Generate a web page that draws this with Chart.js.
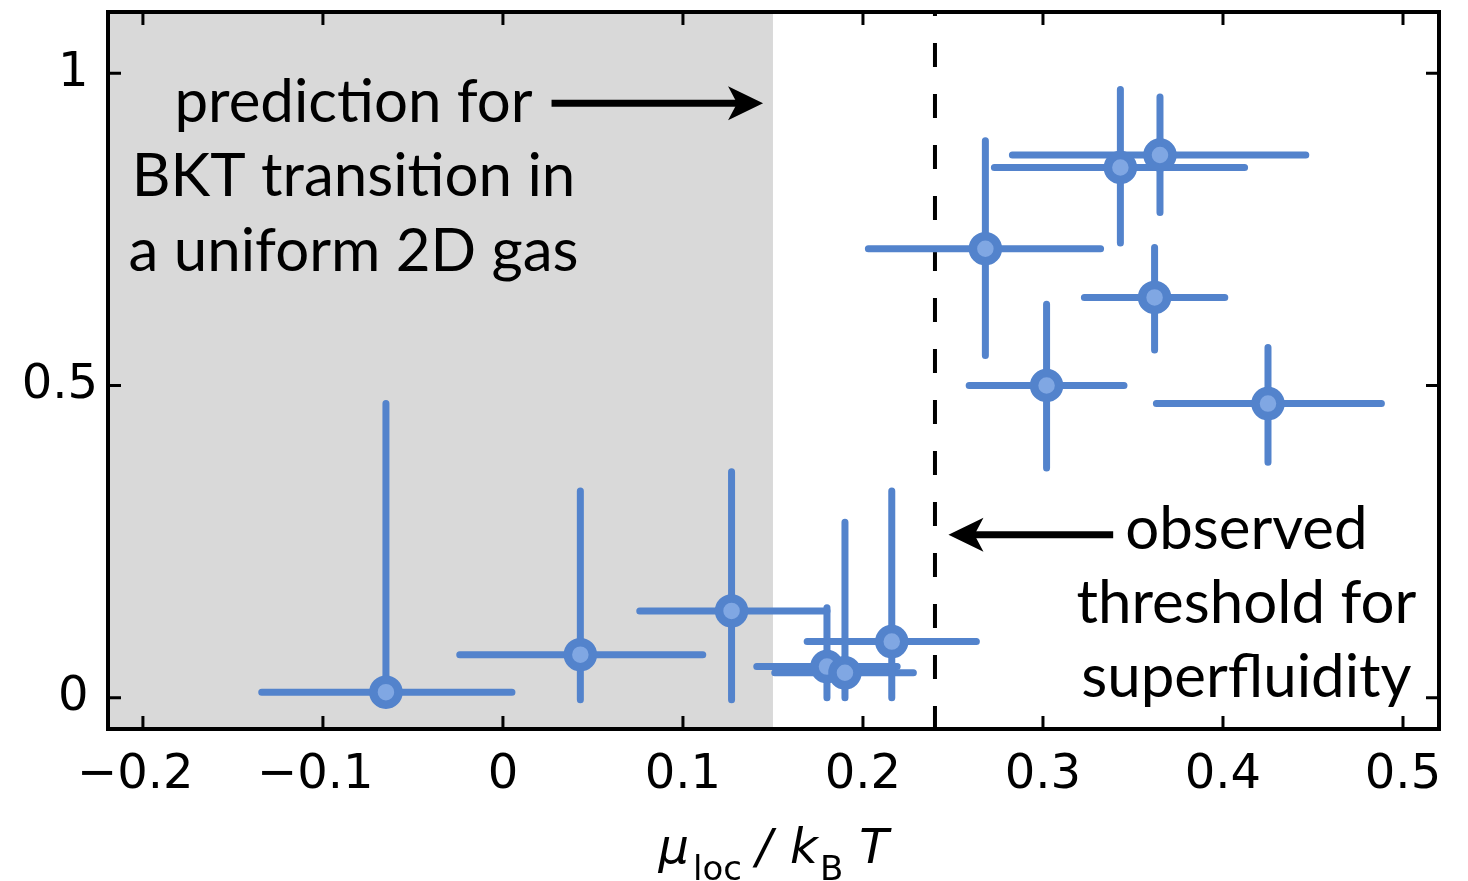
<!DOCTYPE html>
<html>
<head>
<meta charset="utf-8">
<script src="https://cdn.jsdelivr.net/npm/chart.js@4.4.1/dist/chart.umd.min.js"></script>
<style>
  html, body { margin: 0; padding: 0; background: #fff; }
  #graph { display: block; }
</style>
</head>
<body>
<canvas id="graph" width="1468" height="881"></canvas>
<script>
// data
const muX   = [-0.065, 0.043, 0.127, 0.180, 0.190, 0.216, 0.268, 0.343, 0.365, 0.362, 0.302, 0.425];
const fracY = [0.009, 0.069, 0.139, 0.050, 0.040, 0.090, 0.719, 0.849, 0.869, 0.641, 0.500, 0.471];
const xLow  = [-0.134, -0.024, 0.076, 0.141, 0.151, 0.169, 0.203, 0.273, 0.283, 0.323, 0.259, 0.363];
const xHigh = [0.005, 0.111, 0.180, 0.219, 0.228, 0.263, 0.332, 0.412, 0.446, 0.401, 0.345, 0.488];
const yLow  = [0.000, -0.003, -0.003, 0.000, 0.000, 0.000, 0.548, 0.728, 0.777, 0.557, 0.368, 0.377];
const yHigh = [0.471, 0.331, 0.362, 0.144, 0.281, 0.331, 0.892, 0.974, 0.962, 0.721, 0.630, 0.561];

const xTicks = [-0.2, -0.1, 0, 0.1, 0.2, 0.3, 0.4, 0.5];
const yTicks = [0, 0.5, 1];

const bktEdge = 0.15;     // right edge of grey region
const threshold = 0.24;   // dashed line

const leftNote = ['prediction for', 'BKT transition in', 'a uniform 2D gas'];
const leftNoteX = -0.083;
const leftNoteY = [0.9215, 0.803, 0.683];
const rightNote = ['observed', 'threshold for', 'superfluidity'];
const rightNoteX = 0.413;
const rightNoteY = [0.239, 0.120, 0.0016];

const blue = '#5383cc';
const lightBlue = '#80a7e3';
const noteFont = '60px Lato';

function arrow(ctx, x0, x1, y) {
  const dir = x1 > x0 ? 1 : -1;
  ctx.save();
  ctx.strokeStyle = '#000';
  ctx.fillStyle = '#000';
  ctx.lineWidth = 7;
  ctx.beginPath();
  ctx.moveTo(x0, y);
  ctx.lineTo(x1 - dir * 20, y);
  ctx.stroke();
  ctx.beginPath();
  ctx.moveTo(x1, y);
  ctx.lineTo(x1 - dir * 35, y - 17);
  ctx.lineTo(x1 - dir * 26, y);
  ctx.lineTo(x1 - dir * 35, y + 17);
  ctx.closePath();
  ctx.fill();
  ctx.restore();
}

const backdrop = {
  id: 'backdrop',
  beforeDatasetsDraw(chart) {
    const { ctx, chartArea: a, scales: { x, y } } = chart;
    ctx.save();
    ctx.fillStyle = '#d9d9d9';
    const xe = x.getPixelForValue(bktEdge);
    ctx.fillRect(a.left, a.top, xe - a.left, a.bottom - a.top);

    // threshold line
    const xt = x.getPixelForValue(threshold);
    ctx.strokeStyle = '#000';
    ctx.lineWidth = 4;
    ctx.setLineDash([24, 27]);
    ctx.lineDashOffset = 20;
    ctx.beginPath();
    ctx.moveTo(xt, a.top);
    ctx.lineTo(xt, a.bottom);
    ctx.stroke();
    ctx.setLineDash([]);

    // error bars
    ctx.strokeStyle = blue;
    ctx.lineWidth = 7;
    ctx.lineCap = 'round';
    for (let i = 0; i < muX.length; i++) {
      const px = x.getPixelForValue(muX[i]);
      const py = y.getPixelForValue(fracY[i]);
      ctx.beginPath();
      ctx.moveTo(x.getPixelForValue(xLow[i]), py);
      ctx.lineTo(x.getPixelForValue(xHigh[i]), py);
      ctx.moveTo(px, y.getPixelForValue(yLow[i]));
      ctx.lineTo(px, y.getPixelForValue(yHigh[i]));
      ctx.stroke();
    }
    ctx.restore();
  },
  afterDatasetsDraw(chart) {
    const { ctx, chartArea: a, scales: { x, y } } = chart;
    ctx.save();
    // frame and inward ticks
    ctx.strokeStyle = '#000';
    ctx.lineWidth = 4;
    ctx.strokeRect(a.left, a.top, a.right - a.left, a.bottom - a.top);
    ctx.lineWidth = 3;
    ctx.beginPath();
    xTicks.forEach(v => {
      const px = x.getPixelForValue(v);
      ctx.moveTo(px, a.bottom); ctx.lineTo(px, a.bottom - 13);
      ctx.moveTo(px, a.top); ctx.lineTo(px, a.top + 13);
    });
    yTicks.forEach(v => {
      const py = y.getPixelForValue(v);
      ctx.moveTo(a.left, py); ctx.lineTo(a.left + 13, py);
      ctx.moveTo(a.right, py); ctx.lineTo(a.right - 13, py);
    });
    ctx.stroke();

    // notes
    ctx.fillStyle = '#000';
    ctx.font = noteFont;
    ctx.textAlign = 'center';
    ctx.textBaseline = 'alphabetic';
    leftNote.forEach((t, i) => ctx.fillText(t, x.getPixelForValue(leftNoteX), y.getPixelForValue(leftNoteY[i])));
    rightNote.forEach((t, i) => ctx.fillText(t, x.getPixelForValue(rightNoteX), y.getPixelForValue(rightNoteY[i])));
    arrow(ctx, x.getPixelForValue(0.027), x.getPixelForValue(0.1445), y.getPixelForValue(0.952));
    arrow(ctx, x.getPixelForValue(0.339), x.getPixelForValue(0.2475), y.getPixelForValue(0.261));

    // x axis title: mu_loc / k_B T
    const parts = [
      { t: '\u03bc', f: 'italic 48px "DejaVu Sans"', dy: 0, gap: 4 },
      { t: 'loc', f: '34px "DejaVu Sans"', dy: 17, gap: 14 },
      { t: '/', f: 'italic 48px "DejaVu Sans"', dy: 0, gap: 18 },
      { t: 'k', f: 'italic 48px "DejaVu Sans"', dy: 0, gap: 2 },
      { t: 'B', f: '34px "DejaVu Sans"', dy: 17, gap: 16 },
      { t: 'T', f: 'italic 48px "DejaVu Sans"', dy: 0, gap: 0 }
    ];
    let total = 0;
    parts.forEach(p => { ctx.font = p.f; p.w = ctx.measureText(p.t).width; total += p.w + p.gap; });
    let cx = (a.left + a.right) / 2 - total / 2;
    const base = 863;
    ctx.textAlign = 'left';
    parts.forEach(p => {
      ctx.font = p.f;
      ctx.fillText(p.t, cx, base + p.dy);
      cx += p.w + p.gap;
    });
    ctx.restore();
  }
};

const graphRef = document.getElementById('graph');

new Chart(graphRef, {
  type: 'scatter',
  data: {
    datasets: [{
      data: muX.map((v, i) => ({ x: v, y: fracY[i] })),
      pointRadius: 12.5,
      pointBorderWidth: 8.5,
      pointBackgroundColor: lightBlue,
      pointBorderColor: blue,
      pointHoverRadius: 12.5
    }]
  },
  options: {
    responsive: false,
    animation: false,
    devicePixelRatio: 1,
    layout: { autoPadding: false, padding: { top: 12, right: 29, left: 0, bottom: 0 } },
    plugins: { legend: { display: false }, tooltip: { enabled: false } },
    scales: {
      x: {
        type: 'linear',
        min: -0.2194,
        max: 0.52,
        afterBuildTicks: s => { s.ticks = xTicks.map(v => ({ value: v })); },
        afterFit: s => { s.height = 152; s.paddingLeft = 0; s.paddingRight = 0; },
        grid: { display: false, drawTicks: false },
        border: { display: false },
        ticks: {
          color: '#000',
          font: { family: 'DejaVu Sans', size: 48 },
          padding: 18,
          maxRotation: 0,
          autoSkip: false,
          callback: v => {
            const r = Math.round(v * 10) / 10;
            return r < 0 ? '\u2212' + String(-r) + ' ' : String(r);
          }
        }
      },
      y: {
        type: 'linear',
        min: -0.05,
        max: 1.098,
        afterBuildTicks: s => { s.ticks = yTicks.map(v => ({ value: v })); },
        afterFit: s => { s.width = 108; s.paddingTop = 0; s.paddingBottom = 0; },
        grid: { display: false, drawTicks: false },
        border: { display: false },
        ticks: {
          color: '#000',
          font: { family: 'DejaVu Sans', size: 48 },
          padding: 10,
          callback: v => v === 0.5 ? '0.5' : String(v) + '\u2009'
        }
      }
    }
  },
  plugins: [backdrop]
});
</script>
</body>
</html>
